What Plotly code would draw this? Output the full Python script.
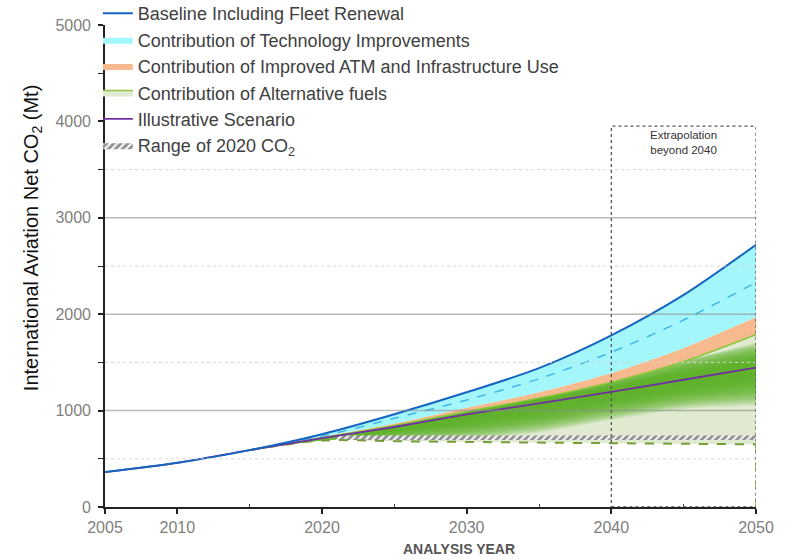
import numpy as np
import plotly.graph_objects as go

# ---- data (Mt CO2) ----
hist_years = [2005, 2010, 2015]
hist_co2 = [362, 458, 590]

years = [2015, 2020, 2025, 2030, 2035, 2040, 2045, 2050]
baseline = [590, 755, 962, 1190, 1440, 1780, 2200, 2720]
tech_dashed = [590, 735, 920, 1110, 1330, 1605, 1940, 2330]
atm_top = [590, 726, 866, 1030, 1190, 1390, 1650, 1970]
altfuel_top = [590, 718, 846, 990, 1130, 1295, 1510, 1790]
illustrative = [590, 714, 830, 960, 1075, 1195, 1320, 1445]
net_floor = [590, 690, 682, 675, 668, 662, 656, 650]

# spread of scenario density around the illustrative path
spread_up = [0, 10, 30, 60, 120, 150, 230, 260]
spread_down = [0, 45, 140, 260, 300, 290, 300, 390]

range_years = [2021, 2050]
range_2020 = [695, 742]

x_ticks = [2005, 2010, 2020, 2030, 2040, 2050]
y_ticks = [0, 1000, 2000, 3000, 4000, 5000]
extrap_start, extrap_end, extrap_top = 2040, 2050, 3950

BLUE = "#1565c0"
CYAN_FILL = "#a3f7fb"
CYAN_LINE = "#45b6ea"
ORANGE = "#f7ba8e"
GREEN_LINE = "#8dc63f"
PALE_GREEN = "#dfead1"
PURPLE = "#7030a0"
OLIVE = "#779c3a"
FONT = "Liberation Sans, Arial, sans-serif"

fig = go.Figure()
sp = dict(shape="spline", smoothing=0.8)

# pale alternative-fuel wedge
fig.add_trace(go.Scatter(x=years, y=net_floor, mode="lines",
                         line=dict(width=0, **sp), showlegend=False, hoverinfo="skip"))
fig.add_trace(go.Scatter(x=years, y=altfuel_top, mode="lines", fill="tonexty",
                         fillcolor=PALE_GREEN, line=dict(color=GREEN_LINE, width=1.5, **sp),
                         name="Contribution of Alternative fuels", legendrank=4,
                         hoverinfo="skip"))

# green shading, denser towards the illustrative scenario
ill = np.array(illustrative, float)
top = np.array(altfuel_top, float)
floor = np.array(net_floor, float)
up = np.array(spread_up, float)
down = np.array(spread_down, float)
for s in np.linspace(1.0, 0.3, 14):
    hi = np.minimum(ill + s * up, top)
    lo = np.maximum(ill - s * down, floor)
    fig.add_trace(go.Scatter(x=years, y=lo, mode="lines", line=dict(width=0, **sp),
                             showlegend=False, hoverinfo="skip"))
    fig.add_trace(go.Scatter(x=years, y=hi, mode="lines", line=dict(width=0, **sp),
                             fill="tonexty", fillcolor="rgba(88,172,28,0.16)",
                             showlegend=False, hoverinfo="skip"))

# ATM & infrastructure wedge
fig.add_trace(go.Scatter(x=years, y=altfuel_top, mode="lines", line=dict(width=0, **sp),
                         showlegend=False, hoverinfo="skip"))
fig.add_trace(go.Scatter(x=years, y=atm_top, mode="lines", line=dict(width=0, **sp),
                         fill="tonexty", fillcolor=ORANGE,
                         name="Contribution of Improved ATM and Infrastructure Use",
                         legendrank=3, hoverinfo="skip"))

# technology wedge
fig.add_trace(go.Scatter(x=years, y=atm_top, mode="lines", line=dict(width=0, **sp),
                         showlegend=False, hoverinfo="skip"))
fig.add_trace(go.Scatter(x=years, y=baseline, mode="lines", line=dict(width=0, **sp),
                         fill="tonexty", fillcolor=CYAN_FILL,
                         name="Contribution of Technology Improvements",
                         legendrank=2, hoverinfo="skip"))

# range of 2020 CO2
rx = [range_years[0], range_years[1], range_years[1], range_years[0], range_years[0]]
ry = [range_2020[0], range_2020[0], range_2020[1], range_2020[1], range_2020[0]]
fig.add_trace(go.Scatter(x=rx, y=ry, mode="lines", fill="toself", line=dict(width=0),
                         fillcolor="white",
                         fillpattern=dict(shape="/", fgcolor="#262626", bgcolor="#ffffff",
                                          size=5, solidity=0.6),
                         name="Range of 2020 CO<sub>2</sub>", legendrank=6,
                         hoverinfo="skip"))

# lines
fig.add_trace(go.Scatter(x=years, y=net_floor, mode="lines",
                         line=dict(color=OLIVE, width=2, dash="dash", **sp),
                         showlegend=False, hoverinfo="skip"))
fig.add_trace(go.Scatter(x=years, y=altfuel_top, mode="lines",
                         line=dict(color=GREEN_LINE, width=1.5, **sp),
                         showlegend=False, hoverinfo="skip"))
fig.add_trace(go.Scatter(x=years, y=tech_dashed, mode="lines",
                         line=dict(color=CYAN_LINE, width=1.5, dash="dash", **sp),
                         showlegend=False, hoverinfo="skip"))
fig.add_trace(go.Scatter(x=hist_years + years[1:], y=hist_co2 + illustrative[1:],
                         mode="lines", line=dict(color=PURPLE, width=1.8, **sp),
                         name="Illustrative Scenario", legendrank=5, hoverinfo="skip"))
fig.add_trace(go.Scatter(x=hist_years + years[1:], y=hist_co2 + baseline[1:],
                         mode="lines", line=dict(color=BLUE, width=2, **sp),
                         name="Baseline Including Fleet Renewal", legendrank=1,
                         hoverinfo="skip"))

shapes = []
for v in [500, 1500, 2500, 3500]:
    shapes.append(dict(type="line", xref="paper", x0=0, x1=1, yref="y", y0=v, y1=v,
                       line=dict(color="#d6d6d6", width=1, dash="dot"), layer="above"))
for v in [1000, 2000, 3000]:
    shapes.append(dict(type="line", xref="paper", x0=0, x1=1, yref="y", y0=v, y1=v,
                       line=dict(color="rgba(140,140,140,0.6)", width=1.5), layer="above"))
shapes.append(dict(type="rect", x0=extrap_start, x1=extrap_end, y0=0, y1=extrap_top,
                   line=dict(color="#555555", width=1.3, dash="dot"), layer="above"))
shapes.append(dict(type="line", x0=years[-1], x1=years[-1], y0=0, y1=net_floor[-1],
                   line=dict(color=OLIVE, width=1.3, dash="dash"), layer="above"))

fig.update_layout(
    width=789, height=560,
    margin=dict(l=105, r=33, t=25, b=53, autoexpand=False),
    paper_bgcolor="white", plot_bgcolor="white",
    font=dict(family=FONT, color="#444444"),
    shapes=shapes,
    showlegend=True,
    legend=dict(x=-0.011, y=1.062, xanchor="left", yanchor="top",
                font=dict(size=18, color="#404040", family=FONT),
                bgcolor="rgba(0,0,0,0)", tracegroupgap=8, itemwidth=30,
                traceorder="normal"),
    annotations=[
        dict(x=(extrap_start + extrap_end) / 2, y=extrap_top - 10, xref="x", yref="y",
             text="Extrapolation<br>beyond 2040", showarrow=False, yanchor="top",
             font=dict(size=11.5, color="#333333", family=FONT)),
        dict(x=2029.5, y=-0.087, xref="x", yref="paper", yanchor="middle",
             text="<b>ANALYSIS YEAR</b>", showarrow=False,
             font=dict(size=14, color="#555555", family=FONT)),
        dict(x=-0.112, y=0.558, xref="paper", yref="paper", textangle=-90,
             xanchor="center", yanchor="middle", showarrow=False,
             text="International Aviation Net CO<sub>2</sub> (Mt)",
             font=dict(size=20, color="#111111", family=FONT)),
    ],
)

# give every trace its own legend group so the gap applies between rows
for i, tr in enumerate(fig.data):
    tr.legendgroup = f"g{i}"

fig.update_xaxes(range=[2005, 2050], tickmode="array", tickvals=x_ticks,
                 ticks="outside", ticklen=5, tickcolor="#222", tickwidth=1.5,
                 showline=True, linecolor="#222", linewidth=1.6,
                 showgrid=False, zeroline=False,
                 tickfont=dict(size=16, color="#808080", family=FONT),
                 minor=dict(tickvals=[2015, 2025, 2035, 2045], ticks="inside",
                            ticklen=3, tickcolor="#444", tickwidth=1))
fig.update_yaxes(range=[0, 5000], tickmode="array", tickvals=y_ticks,
                 ticks="outside", ticklen=5, tickcolor="#222", tickwidth=1.5,
                 showline=True, linecolor="#222", linewidth=1.6,
                 showgrid=False, zeroline=False, ticklabelstandoff=4,
                 tickfont=dict(size=16, color="#808080", family=FONT),
                 minor=dict(dtick=500, ticks="outside", ticklen=5,
                            tickcolor="#222", tickwidth=1.2))

fig.write_html("out.html")
